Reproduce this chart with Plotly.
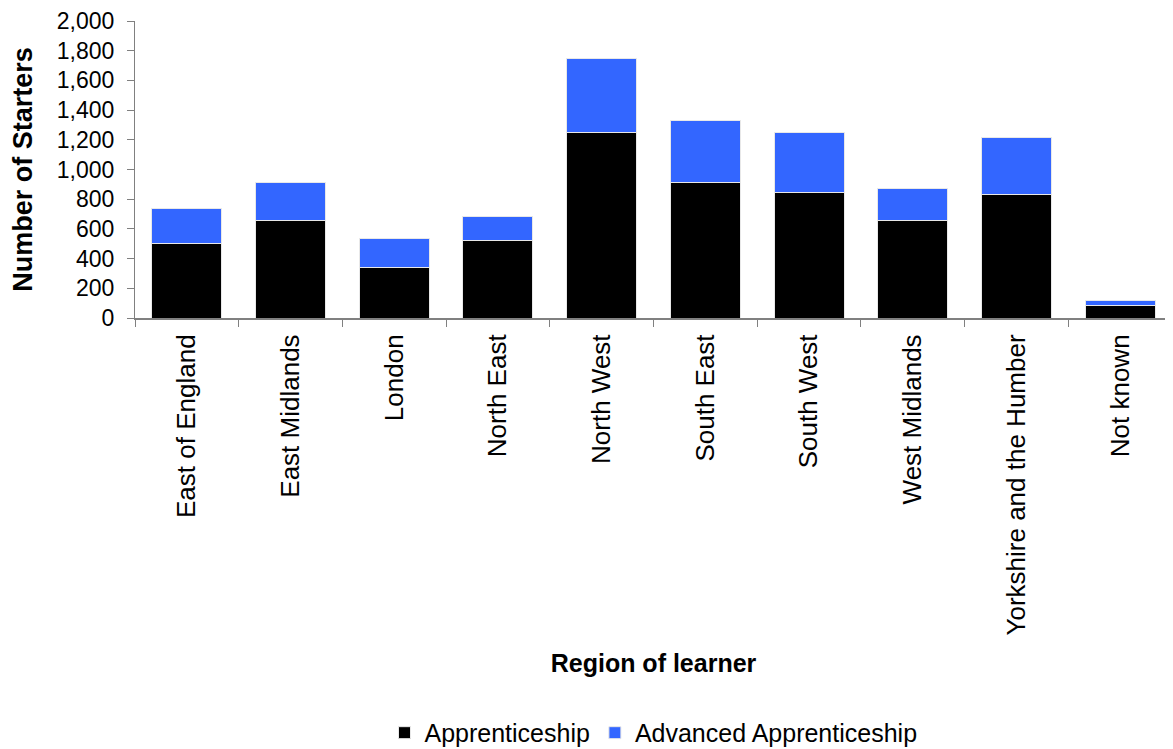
import plotly.graph_objects as go

regions = ["East of England", "East Midlands", "London", "North East", "North West",
           "South East", "South West", "West Midlands", "Yorkshire and the Humber", "Not known"]
apprenticeship = [500, 655, 342, 520, 1250, 915, 844, 655, 833, 83]
advanced = [237, 260, 196, 163, 496, 416, 404, 216, 384, 37]
y_ticks = [0, 200, 400, 600, 800, 1000, 1200, 1400, 1600, 1800, 2000]
y_tick_text = ["0", "200", "400", "600", "800", "1,000", "1,200", "1,400", "1,600", "1,800", "2,000"]

FONT = "Liberation Sans, Arial, sans-serif"

fig = go.Figure()
fig.add_trace(go.Bar(x=regions, y=apprenticeship, name="Apprenticeship",
                     marker=dict(color="#000000", line=dict(color="#e8e8e8", width=1))))
fig.add_trace(go.Bar(x=regions, y=advanced, name="Advanced Apprenticeship",
                     marker=dict(color="#3366FF", line=dict(color="#e8e8e8", width=1))))

fig.update_layout(
    barmode="stack",
    bargap=0.325,
    width=1165, height=741,
    margin=dict(l=127, r=1, t=13, b=431, autoexpand=False),
    paper_bgcolor="white", plot_bgcolor="white",
    font=dict(family=FONT, size=24, color="black"),
    showlegend=True,
    legend=dict(orientation="h", x=0.5, xanchor="center", y=-1.397, yanchor="middle",
                font=dict(size=25), traceorder="normal"),
    xaxis=dict(
        type="category", tickangle=-90, showline=True, linecolor="#808080", linewidth=2,
        ticks="outside", tickson="boundaries", ticklen=7, tickcolor="#808080",
        tickfont=dict(size=26), showgrid=False, automargin=False, ticklabelstandoff=4,
        title=dict(text="<b>Region of learner</b>", font=dict(size=25), standoff=20),
    ),
    yaxis=dict(
        range=[0, 2000], tickvals=y_ticks, ticktext=y_tick_text,
        showline=True, linecolor="#808080", linewidth=1, ticks="outside", ticklen=7,
        tickcolor="#808080", tickfont=dict(size=23), showgrid=False, zeroline=False,
        automargin=False, ticklabelstandoff=8, ticklabeloverflow="allow",
        title=dict(text="<b>Number of Starters</b>", font=dict(size=27), standoff=16),
    ),
)

fig.write_html("out.html")
